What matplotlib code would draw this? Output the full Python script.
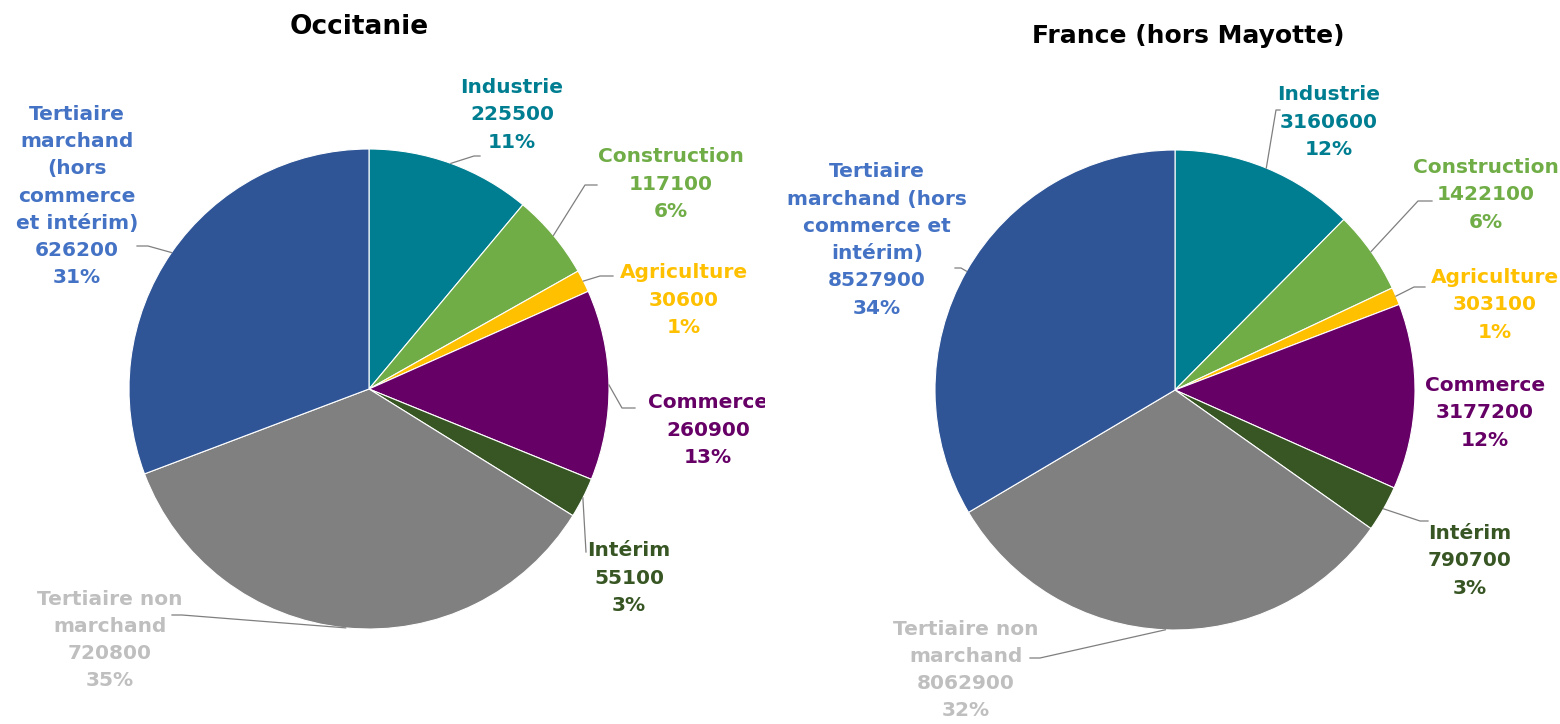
import numpy as np
import matplotlib.pyplot as plt
from matplotlib.patches import Rectangle

# --- DATA ---
categories = ["Industrie", "Construction", "Agriculture", "Commerce", "Intérim",
              "Tertiaire non marchand", "Tertiaire marchand (hors commerce et intérim)"]
occitanie = [225500, 117100, 30600, 260900, 55100, 720800, 626200]
france = [3160600, 1422100, 303100, 3177200, 790700, 8062900, 8527900]
occ_pct = ["11%", "6%", "1%", "13%", "3%", "35%", "31%"]
fra_pct = ["12%", "6%", "1%", "12%", "3%", "32%", "34%"]

# label names as wrapped in each chart
occ_names = ["Industrie", "Construction", "Agriculture", "Commerce", "Intérim",
             "Tertiaire non\nmarchand", "Tertiaire\nmarchand\n(hors\ncommerce\net intérim)"]
fra_names = ["Industrie", "Construction", "Agriculture", "Commerce", "Intérim",
             "Tertiaire non\nmarchand", "Tertiaire\nmarchand (hors\ncommerce et\nintérim)"]

# --- STYLE ---
W, H = 1560, 724
wedge_colors = ["#007E91", "#70AD47", "#FFC000", "#660066", "#375623", "#808080", "#2F5597"]
text_colors = ["#007E91", "#70AD47", "#FFC000", "#660066", "#375623", "#BFBFBF", "#4472C4"]
FONT = "DejaVu Sans"
R = 240

# label centres (pixels from top-left) and leader elbow / end points
occ_layout = dict(center=(369, 389),
                  labels=[(512, 115), (671, 184), (684, 300), (708, 430), (629, 578), (110, 640), (77, 196)],
                  leaders=[((474, 156), (480, 156)), ((585, 185), (597, 185)), ((600, 276), (613, 276)),
                           ((622, 408), (635, 408)), ((586, 552), (586, 552)), ((182, 615), (172, 615)),
                           ((148, 246), (137, 246))])
fra_layout = dict(center=(1175, 390),
                  labels=[(1329, 122), (1486, 195), (1495, 305), (1485, 413), (1470, 561), (966, 670), (877, 240)],
                  leaders=[((1276, 110), (1280, 110)), ((1418, 201), (1432, 201)), ((1414, 287), (1425, 287)),
                           None, ((1420, 521), (1428, 521)), ((1040, 658), (1030, 658)),
                           ((961, 268), (955, 268))])

fig = plt.figure(figsize=(W / 100, H / 100), dpi=100)
ax = fig.add_axes([0, 0, 1, 1])
ax.set_xlim(0, W)
ax.set_ylim(0, H)
ax.set_aspect("equal")
ax.axis("off")


def draw_pie(values, pcts, names, layout, clip_x=None):
    cx, cy = layout["center"]
    wedges, _ = ax.pie(values, colors=wedge_colors, startangle=90, counterclock=False,
                       radius=R, center=(cx, H - cy), frame=True,
                       wedgeprops=dict(edgecolor="white", linewidth=0.8))
    for i, w in enumerate(wedges):
        mid = np.deg2rad((w.theta1 + w.theta2) / 2)
        px, py = cx + R * np.cos(mid), (H - cy) + R * np.sin(mid)
        ld = layout["leaders"][i]
        if ld is not None:
            (ex, ey), (tx, ty) = ld
            ax.plot([px, ex, tx], [py, H - ey, H - ty], color="#7F7F7F", lw=0.9, zorder=3)
        lx, ly = layout["labels"][i]
        t = ax.text(lx, H - ly, f"{names[i]}\n{values[i]}\n{pcts[i]}", ha="center", va="center",
                    color=text_colors[i], fontsize=14.5, fontweight="bold", family=FONT,
                    linespacing=1.55, zorder=4)
        if clip_x is not None:
            t.set_clip_path(Rectangle((0, 0), clip_x, H, transform=ax.transData))
            t.set_clip_on(True)


draw_pie(occitanie, occ_pct, occ_names, occ_layout, clip_x=765)
draw_pie(france, fra_pct, fra_names, fra_layout)

ax.set_xlim(0, W)
ax.set_ylim(0, H)
ax.axis("off")

ax.text(359, H - 27, "Occitanie", ha="center", va="center", fontsize=19,
        fontweight="bold", family=FONT, color="black")
ax.text(1188, H - 36, "France (hors Mayotte)", ha="center", va="center", fontsize=18,
        fontweight="bold", family=FONT, color="black")

fig.savefig("out.png", dpi=100)
